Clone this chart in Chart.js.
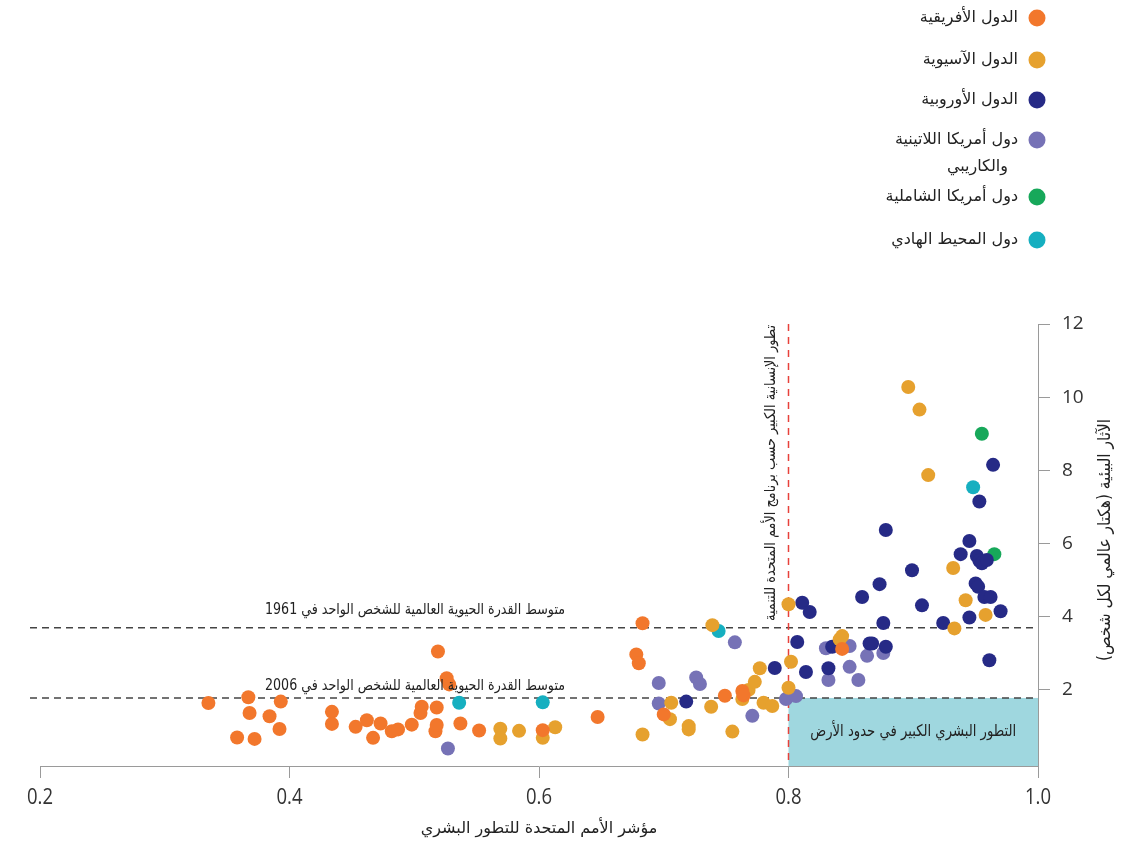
<!DOCTYPE html>
<html lang="ar">
<head>
<meta charset="utf-8">
<title>HDI vs footprint</title>
<script src="https://cdn.jsdelivr.net/npm/chart.js@4.4.0/dist/chart.umd.min.js"></script>
<style>
  body { margin: 0; background: #fff; }
  #wrap { width: 1140px; height: 845px; position: relative; }
</style>
</head>
<body>
<div id="wrap"><canvas id="hdiChart"></canvas></div>
<script>
// Regions (legend order) and their colours
const regionNames = [
    ['الدول الأفريقية'],
    ['الدول الآسيوية'],
    ['الدول الأوروبية'],
    ['دول أمريكا اللاتينية', 'والكاريبي'],
    ['دول أمريكا الشاملية'],
    ['دول المحيط الهادي']
];
const regionColors = ['#f2772c', '#e6a12e', '#262a86', '#7672b6', '#17a85a', '#16afc0'];

// HDI (x) and ecological footprint, global ha per person (y)
const africaHdi = [0.335, 0.358, 0.367, 0.368, 0.372, 0.384, 0.392, 0.393, 0.434, 0.434, 0.453, 0.462, 0.467, 0.473, 0.482, 0.487, 0.498, 0.505, 0.506, 0.517, 0.518, 0.518, 0.519, 0.526, 0.528, 0.537, 0.552, 0.603, 0.647, 0.678, 0.680, 0.683, 0.700, 0.749, 0.763, 0.764, 0.843];
const africaFootprint = [1.64, 0.70, 1.80, 1.37, 0.66, 1.28, 0.93, 1.68, 1.40, 1.07, 0.99, 1.17, 0.69, 1.08, 0.87, 0.92, 1.05, 1.37, 1.54, 0.87, 1.04, 1.52, 3.05, 2.32, 2.15, 1.08, 0.89, 0.90, 1.26, 2.97, 2.73, 3.82, 1.33, 1.84, 1.97, 1.85, 3.12];

const asiaHdi = [0.569, 0.569, 0.584, 0.603, 0.613, 0.683, 0.705, 0.706, 0.720, 0.720, 0.738, 0.739, 0.755, 0.763, 0.768, 0.773, 0.777, 0.780, 0.787, 0.800, 0.800, 0.802, 0.841, 0.843, 0.896, 0.905, 0.912, 0.932, 0.933, 0.942, 0.958];
const asiaFootprint = [0.94, 0.67, 0.88, 0.69, 0.98, 0.78, 1.20, 1.65, 1.01, 0.92, 1.54, 3.77, 0.86, 1.75, 2.00, 2.22, 2.59, 1.65, 1.56, 4.34, 2.06, 2.77, 3.38, 3.47, 10.28, 9.66, 7.87, 5.33, 3.68, 4.45, 4.05];

const europeHdi = [0.718, 0.789, 0.807, 0.811, 0.814, 0.817, 0.832, 0.835, 0.859, 0.865, 0.867, 0.873, 0.876, 0.878, 0.878, 0.899, 0.907, 0.924, 0.938, 0.945, 0.945, 0.950, 0.951, 0.952, 0.953, 0.953, 0.955, 0.957, 0.959, 0.961, 0.962, 0.964, 0.970];
const europeFootprint = [1.68, 2.60, 3.31, 4.38, 2.49, 4.13, 2.59, 3.18, 4.54, 3.27, 3.27, 4.89, 3.83, 3.18, 6.37, 5.27, 4.31, 3.83, 5.71, 6.07, 3.98, 4.91, 5.66, 4.82, 7.15, 5.53, 5.46, 4.54, 5.55, 2.81, 4.54, 8.15, 4.15];

const latinHdi = [0.527, 0.696, 0.696, 0.726, 0.729, 0.757, 0.771, 0.798, 0.806, 0.830, 0.832, 0.849, 0.849, 0.856, 0.863, 0.876];
const latinFootprint = [0.40, 2.19, 1.63, 2.34, 2.16, 3.30, 1.29, 1.75, 1.83, 3.14, 2.27, 3.20, 2.63, 2.27, 2.93, 3.01];

const northAmHdi = [0.955, 0.965];
const northAmFootprint = [9.00, 5.71];

const pacificHdi = [0.536, 0.603, 0.744, 0.948];
const pacificFootprint = [1.65, 1.66, 3.61, 7.54];

const xTicks = [0.2, 0.4, 0.6, 0.8, 1.0];
const yTicks = [2, 4, 6, 8, 10, 12];

// Reference values
const hdiThreshold = 0.8;
const bioCapacity1961 = 3.7;
const bioCapacity2006 = 1.78;

const label1961 = 'متوسط القدرة الحيوية العالمية للشخص الواحد في 1961';
const label2006 = 'متوسط القدرة الحيوية العالمية للشخص الواحد في 2006';
const labelThreshold = 'تطور الإنسانية الكبير حسب برنامج الأمم المتحدة للتنمية';
const labelBox = 'التطور البشري الكبير في حدود الأرض';
const xTitle = 'مؤشر الأمم المتحدة للتطور البشري';
const yTitle = 'الآثار البيئية (هكتار عالمي لكل شخص)';

const arabicFont = '"DejaVu Sans", sans-serif';

function toPoints(xs, ys) {
    const pts = [];
    for (let i = 0; i < xs.length; i++) {
        pts.push({ x: xs[i], y: ys[i] });
    }
    return pts;
}

const seriesX = [africaHdi, asiaHdi, europeHdi, latinHdi, northAmHdi, pacificHdi];
const seriesY = [africaFootprint, asiaFootprint, europeFootprint, latinFootprint, northAmFootprint, pacificFootprint];

const datasets = [];
for (let i = 0; i < regionNames.length; i++) {
    datasets.push({
        label: regionNames[i].join(' '),
        data: toPoints(seriesX[i], seriesY[i]),
        backgroundColor: regionColors[i],
        borderWidth: 0,
        pointRadius: 7,
        pointHoverRadius: 7
    });
}

// lines, box and texts drawn on the chart
const refPlugin = {
    id: 'refPlugin',
    beforeDatasetsDraw(chart) {
        const { ctx, chartArea, scales: { x, y } } = chart;
        ctx.save();
        // high human development within earth's limits box
        const bx0 = x.getPixelForValue(hdiThreshold);
        const bx1 = x.getPixelForValue(1.0);
        const by = y.getPixelForValue(bioCapacity2006);
        ctx.fillStyle = '#9fd7df';
        ctx.fillRect(bx0, by, bx1 - bx0, chartArea.bottom - by);

        // horizontal dashed lines
        ctx.strokeStyle = '#444';
        ctx.lineWidth = 1.5;
        ctx.setLineDash([7, 5]);
        [bioCapacity1961, bioCapacity2006].forEach(v => {
            const py = y.getPixelForValue(v);
            ctx.beginPath();
            ctx.moveTo(chartArea.left - 10, py);
            ctx.lineTo(chartArea.right, py);
            ctx.stroke();
        });

        // red vertical line at hdi 0.8
        ctx.strokeStyle = '#e8413b';
        ctx.setLineDash([7, 6]);
        const px = x.getPixelForValue(hdiThreshold);
        ctx.beginPath();
        ctx.moveTo(px, y.getPixelForValue(12));
        ctx.lineTo(px, chartArea.bottom);
        ctx.stroke();
        ctx.restore();
    },
    afterDatasetsDraw(chart) {
        const { ctx, chartArea, scales: { x, y } } = chart;
        ctx.save();
        ctx.direction = 'rtl';
        ctx.fillStyle = '#222';
        ctx.textBaseline = 'middle';

        // labels above the dashed lines
        ctx.font = '15px ' + arabicFont;
        ctx.textAlign = 'right';
        ctx.fillText(label1961, 565, y.getPixelForValue(bioCapacity1961) - 18, 300);
        ctx.fillText(label2006, 565, y.getPixelForValue(bioCapacity2006) - 12, 300);

        // text inside the box
        ctx.textAlign = 'center';
        ctx.font = '16px ' + arabicFont;
        const cx = (x.getPixelForValue(hdiThreshold) + chartArea.right) / 2;
        ctx.fillText(labelBox, cx, (y.getPixelForValue(bioCapacity2006) + chartArea.bottom) / 2, 206);

        // vertical text next to the red line
        ctx.translate(x.getPixelForValue(hdiThreshold) - 17, y.getPixelForValue(12) + 1);
        ctx.rotate(-Math.PI / 2);
        ctx.textAlign = 'right';
        ctx.font = '15px ' + arabicFont;
        ctx.fillText(labelThreshold, 0, 0, 296);
        ctx.restore();
    },
    afterDraw(chart) {
        const { ctx, chartArea, scales: { x } } = chart;
        ctx.save();

        // x tick labels, a bit condensed like the original
        ctx.fillStyle = '#333';
        ctx.textAlign = 'center';
        ctx.textBaseline = 'middle';
        ctx.font = '22px "Open Sans", sans-serif';
        xTicks.forEach(v => {
            ctx.fillText(v.toFixed(1), x.getPixelForValue(v), chartArea.bottom + 32, 26);
        });

        ctx.direction = 'rtl';
        ctx.fillStyle = '#222';

        // y axis title, rotated
        ctx.save();
        ctx.translate(1106, (chartArea.top + chartArea.bottom) / 2 - 5);
        ctx.rotate(-Math.PI / 2);
        ctx.textAlign = 'center';
        ctx.font = '17px ' + arabicFont;
        ctx.fillText(yTitle, 0, 0, 242);
        ctx.restore();

        // legend
        const legendY = [18, 60, 100, 140, 197, 240];
        ctx.font = '16px ' + arabicFont;
        ctx.textAlign = 'right';
        for (let i = 0; i < regionNames.length; i++) {
            ctx.fillStyle = regionColors[i];
            ctx.beginPath();
            ctx.arc(1037, legendY[i], 8.5, 0, Math.PI * 2);
            ctx.fill();
            ctx.fillStyle = '#222';
            const lines = regionNames[i];
            for (let j = 0; j < lines.length; j++) {
                ctx.fillText(lines[j], j === 0 ? 1018 : 1008, legendY[i] + j * 27);
            }
        }
        ctx.restore();
    }
};

const ctx = document.getElementById('hdiChart').getContext('2d');
const hdiChart = new Chart(ctx, {
    type: 'scatter',
    data: { datasets: datasets },
    options: {
        responsive: true,
        maintainAspectRatio: false,
        animation: false,
        layout: { padding: { top: 324, left: 40, right: 0, bottom: 0 } },
        plugins: {
            legend: { display: false },
            tooltip: { enabled: false }
        },
        scales: {
            x: {
                type: 'linear',
                min: 0.2,
                max: 1.0,
                afterBuildTicks: axis => { axis.ticks = xTicks.map(v => ({ value: v })); },
                afterFit: axis => { axis.height = 79; },
                grid: { drawOnChartArea: false, drawTicks: true, tickLength: 12, color: '#9a9a9a' },
                border: { color: '#9a9a9a', width: 1 },
                ticks: { display: false },
                title: {
                    display: true,
                    text: xTitle,
                    color: '#222',
                    font: { family: arabicFont, size: 16 },
                    padding: { top: 4, bottom: 7 }
                }
            },
            y: {
                type: 'linear',
                position: 'right',
                min: -0.08,
                max: 12,
                afterBuildTicks: axis => { axis.ticks = yTicks.map(v => ({ value: v })); },
                afterFit: axis => { axis.width = 102; },
                grid: { drawOnChartArea: false, drawTicks: true, tickLength: 12, color: '#9a9a9a' },
                border: { color: '#9a9a9a', width: 1 },
                ticks: {
                    padding: 12,
                    color: '#333',
                    font: { family: '"Open Sans", sans-serif', size: 19 }
                }
            }
        }
    },
    plugins: [refPlugin]
});
</script>
</body>
</html>
